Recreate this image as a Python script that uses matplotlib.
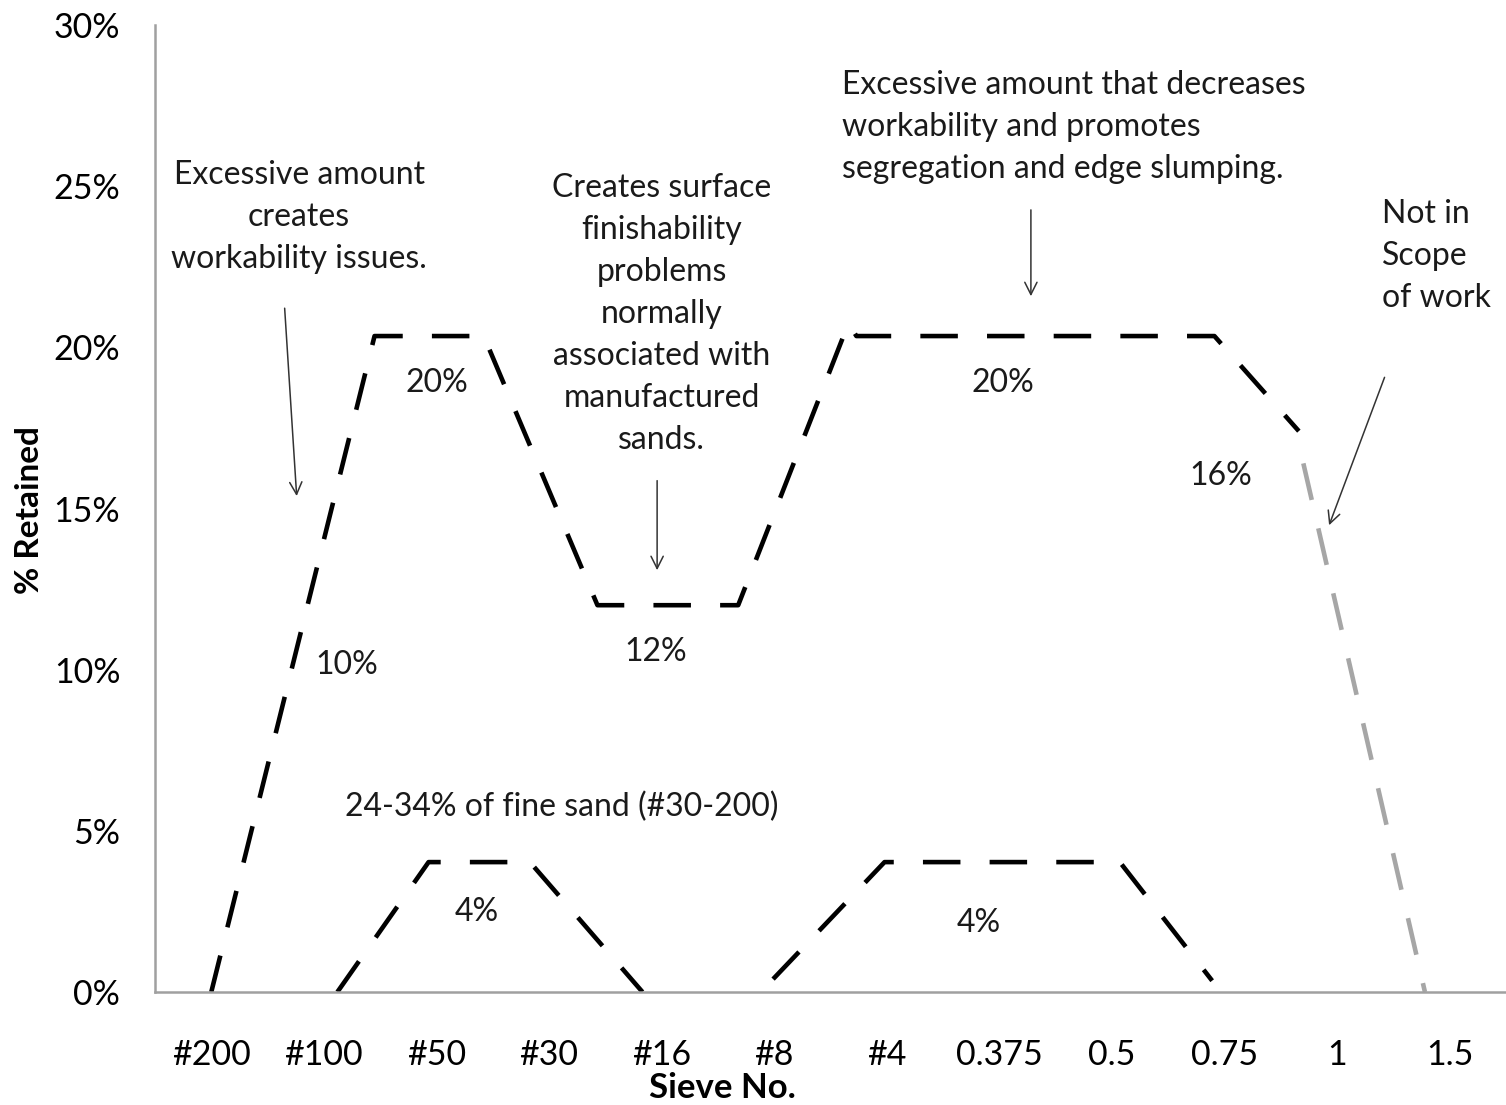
import matplotlib
matplotlib.use('Agg')
import matplotlib.pyplot as plt

plt.rcParams['font.family'] = ['Lato', 'DejaVu Sans']
plt.rcParams['lines.scale_dashes'] = False

# sieve categories on the x axis (plotted at index positions)
sieves = ['#200', '#100', '#50', '#30', '#16', '#8', '#4', '0.375', '0.5', '0.75', '1', '1.5']
y_ticks = [0, 5, 10, 15, 20, 25, 30]

# upper limit line (black)
upper_x = [0, 1.45, 2.42, 3.43, 4.68, 5.66, 5.73, 8.91, 9.66]
upper_y = [0, 20.35, 20.35, 12.0, 12.0, 20.75, 20.35, 20.35, 17.4]

# part outside scope (gray)
scope_x = [9.70, 10.78]
scope_y = [16.4, 0]

# lower limits, fine sand and coarse part
fine_x = [1.12, 1.93, 2.83, 3.83]
fine_y = [0, 4.03, 4.03, 0]
coarse_x = [4.99, 5.98, 8.07, 8.89]
coarse_y = [0.4, 4.03, 4.03, 0.35]

# value labels: (x, y, text)
value_labels = [
    (2.0, 18.9, '20%'), (3.95, 10.55, '12%'), (7.03, 18.9, '20%'), (8.97, 16.0, '16%'),
    (1.2, 10.15, '10%'), (2.36, 2.48, '4%'), (6.82, 2.13, '4%'),
    (3.11, 5.75, '24-34% of fine sand (#30-200)'),
]

fig = plt.figure(figsize=(15.06, 11.05), dpi=100)
ax = fig.add_axes([155 / 1506, 1 - 992 / 1105, 1 - 155 / 1506, 967 / 1105])

dash = (27, 21)
ax.plot(upper_x, upper_y, color='black', lw=3.3, dashes=dash, dash_capstyle='butt')
ax.plot(scope_x, scope_y, color='#a6a6a6', lw=3.3, dashes=dash, dash_capstyle='butt')
ax.plot(fine_x, fine_y, color='black', lw=3.3, dashes=dash, dash_capstyle='butt')
ax.plot(coarse_x, coarse_y, color='black', lw=3.3, dashes=dash, dash_capstyle='butt')

txt = 23
for x, y, t in value_labels:
    ax.text(x, y, t, ha='center', va='center', fontsize=txt, color='#1a1a1a')

arrow = dict(arrowstyle='->', color='#333333', lw=1.1, mutation_scale=22)
ax.annotate('', xy=(0.76, 15.3), xytext=(0.65, 21.3), arrowprops=arrow)
ax.annotate('', xy=(3.96, 13.0), xytext=(3.96, 15.95), arrowprops=arrow)
ax.annotate('', xy=(7.28, 21.5), xytext=(7.28, 24.35), arrowprops=arrow)
ax.annotate('', xy=(9.92, 14.4), xytext=(10.43, 19.15), arrowprops=arrow)

ls = 1.5
ax.text(0.78, 25.8, 'Excessive amount\ncreates\nworkability issues.', ha='center', va='top',
        fontsize=txt, linespacing=ls, color='#1a1a1a')
ax.text(4.0, 25.4, 'Creates surface\nfinishability\nproblems\nnormally\nassociated with\nmanufactured\nsands.',
        ha='center', va='top', fontsize=txt, linespacing=ls, color='#1a1a1a')
ax.text(5.6, 28.6, 'Excessive amount that decreases\nworkability and promotes\nsegregation and edge slumping.',
        ha='left', va='top', fontsize=txt, linespacing=ls, color='#1a1a1a')
ax.text(10.4, 24.6, 'Not in\nScope\nof work', ha='left', va='top', fontsize=txt, linespacing=ls, color='#1a1a1a')

ax.set_xlim(-0.5, 11.5)
ax.set_ylim(0, 30)
ax.set_xticks(range(len(sieves)))
ax.set_xticklabels(sieves, fontsize=24.5)
ax.set_yticks(y_ticks)
ax.set_yticklabels([f'{v}%' for v in y_ticks], fontsize=24.5)
ax.tick_params(length=0)
ax.tick_params(axis='x', pad=34)
ax.tick_params(axis='y', pad=25)

fig.text(722 / 1506, 1 - 1088 / 1105, 'Sieve No.', ha='center', va='center', fontsize=25, fontweight='bold')
fig.text(30 / 1506, 1 - 510 / 1105, '% Retained', ha='center', va='center', rotation=90,
         fontsize=24, fontweight='bold')

for s in ['top', 'right']:
    ax.spines[s].set_visible(False)
for s in ['left', 'bottom']:
    ax.spines[s].set_color('#a0a0a0')
    ax.spines[s].set_linewidth(1.8)

fig.savefig('out.png', dpi=100)
